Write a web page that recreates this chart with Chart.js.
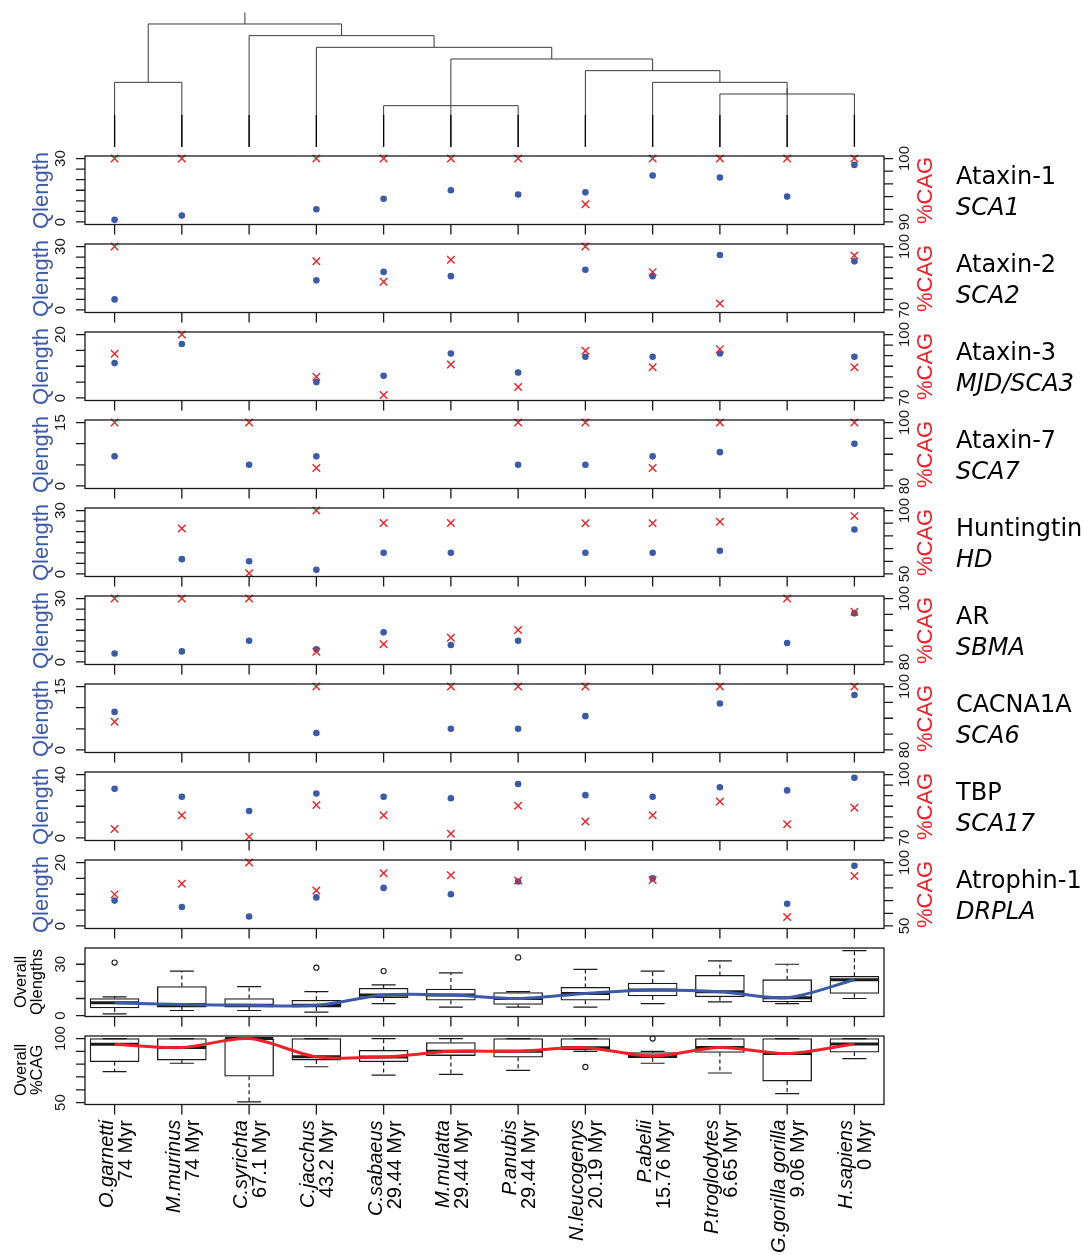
<!DOCTYPE html>
<html>
<head>
<meta charset="utf-8">
<script src="https://cdn.jsdelivr.net/npm/chart.js@4.4.1/dist/chart.umd.min.js"></script>
<style>
  html, body { margin: 0; background: #fff; overflow: hidden; }
  #page { position: relative; width: 1089px; height: 1255px; overflow: hidden;
          font-family: "Liberation Sans", Arial, sans-serif; color: #000; }
  canvas { position: absolute; left: 0; }
  .vt { position: absolute; transform-origin: 0 0; transform: rotate(-90deg);
        white-space: nowrap; text-align: center; }
  .gene { position: absolute; left: 956px; font-family: "DejaVu Sans", sans-serif;
          font-size: 24px; line-height: 31px; white-space: nowrap; }
  .species { font-size: 20px; line-height: 19px; text-align: right; }
</style>
</head>
<body>
<div id="page"></div>
<script>
// ── Species / labels ─────────────────────────────────────────
const species    = ['O.garnetti', 'M.murinus', 'C.syrichta', 'C.jacchus', 'C.sabaeus', 'M.mulatta',
                    'P.anubis', 'N.leucogenys', 'P.abelii', 'P.troglodytes', 'G.gorilla gorilla', 'H.sapiens'];
const divergence = ['74 Myr', '74 Myr', '67.1 Myr', '43.2 Myr', '29.44 Myr', '29.44 Myr',
                    '29.44 Myr', '20.19 Myr', '15.76 Myr', '6.65 Myr', '9.06 Myr', '0 Myr'];
const genes      = ['Ataxin-1', 'Ataxin-2', 'Ataxin-3', 'Ataxin-7', 'Huntingtin', 'AR', 'CACNA1A', 'TBP', 'Atrophin-1'];
const diseases   = ['SCA1', 'SCA2', 'MJD/SCA3', 'SCA7', 'HD', 'SBMA', 'SCA6', 'SCA17', 'DRPLA'];

// ── Per-gene Q length and %CAG (null = not present) ─────────
const qAtaxin1   = [1, 3, null, 6, 11, 15, 13, 14, 22, 21, 12, 27];
const cagAtaxin1 = [100, 100, null, 100, 100, 100, 100, 92.8, 100, 100, 100, 100];
const qAtaxin2   = [5, null, null, 14, 18, 16, null, 19, 16, 26, null, 23];
const cagAtaxin2 = [100, null, null, 93, 83.4, 93.8, null, 100, 87.9, 73.1, null, 95.8];
const qAtaxin3   = [11, 17, null, 5, 7, 14, 8, 13, 13, 14, null, 13];
const cagAtaxin3 = [90.9, 100, null, 80, 71.4, 85.8, 75.2, 92.3, 84.5, 93.1, null, 84.5];
const qAtaxin7   = [7, null, 5, 7, null, null, 5, 5, 7, 8, null, 10];
const cagAtaxin7 = [100, null, 100, 85.7, null, null, 100, 100, 85.7, 100, null, 100];
const qHtt       = [null, 7, 6, 2, 10, 10, null, 10, 10, 11, null, 21];
const cagHtt     = [null, 85.9, 50.5, 100, 90.1, 90.1, null, 90, 90, 91.1, null, 95.6];
const qAR        = [4, 5, 10, 6, 14, 8, 10, null, null, null, 9, 23];
const cagAR      = [100, 100, 100, 83.2, 85.6, 87.6, 90.1, null, null, null, 100, 95.8];
const qCacna1a   = [9, null, null, 4, null, 5, 5, 8, null, 11, null, 13];
const cagCacna1a = [88.9, null, null, 100, null, 100, 100, 100, null, 100, null, 100];
const qTbp       = [31, 26, 17, 28, 26, 25, 34, 27, 26, 32, 30, 38];
const cagTbp     = [74.2, 80.7, 70.6, 85.6, 80.7, 72, 85.2, 77.8, 80.7, 87.3, 76.5, 84.3];
const qAtn1      = [8, 6, 3, 9, 12, 10, 14, null, 15, null, 7, 19];
const cagAtn1    = [74.9, 83.2, 100, 78, 91.5, 89.9, 85.8, null, 86.3, null, 57, 89.4];

// ── Axis ticks per panel ─────────────────────────────────────
const qTicks = [
  [0, 5, 10, 15, 20, 25, 30], [0, 5, 10, 15, 20, 25, 30], [0, 5, 10, 15, 20], [0, 5, 10, 15],
  [0, 5, 10, 15, 20, 25, 30], [0, 5, 10, 15, 20, 25, 30], [0, 5, 10, 15], [0, 10, 20, 30, 40],
  [0, 5, 10, 15, 20]
];
const cagTicks = [
  [90, 92, 94, 96, 98, 100], [70, 75, 80, 85, 90, 95, 100], [70, 75, 80, 85, 90, 95, 100],
  [80, 85, 90, 95, 100], [50, 60, 70, 80, 90, 100], [80, 85, 90, 95, 100], [80, 85, 90, 95, 100],
  [70, 75, 80, 85, 90, 95, 100], [50, 60, 70, 80, 90, 100]
];

// ── Overall boxplots (Qlengths) ──────────────────────────────
const qBoxLo  = [1, 3, 3, 2, 7, 5, 5, 5, 7, 8, 7, 10];
const qBoxQ1  = [4.5, 5, 5, 5, 10.5, 9, 6.5, 9, 11.5, 11, 8, 13];
const qBoxMed = [7.5, 6.5, 6, 6, 12, 12, 10, 13, 15, 14, 10.5, 21];
const qBoxQ3  = [10, 17, 10, 9, 16, 15.5, 13.5, 16.5, 19, 23.5, 21, 23];
const qBoxHi  = [11, 26, 17, 14, 18, 25, 14, 27, 26, 32, 30, 38];
const qOutlierSpecies = ['O.garnetti', 'C.jacchus', 'C.sabaeus', 'P.anubis'];
const qOutlierValues  = [31, 28, 26, 34];
const qBoxTicks = [0, 10, 20, 30];
const qBoxRange = [-0.5, 39.5];

// ── Overall boxplots (%CAG) ──────────────────────────────────
const cagBoxLo  = [74.2, 80.7, 50.5, 78, 71.4, 72, 75.2, 90, 80.7, 73.1, 57, 84.3];
const cagBoxQ1  = [81.9, 83.2, 70.6, 83.2, 82, 86.7, 85.5, 91.2, 85.1, 89.2, 66.8, 89.4];
const cagBoxMed = [95.5, 93, 100, 85.7, 85.6, 90, 90.1, 92.9, 86.3, 93.1, 88.3, 95.8];
const cagBoxQ3  = [100, 100, 100, 100, 90.8, 96.9, 100, 100, 89, 100, 100, 100];
const cagBoxHi  = [100, 100, 100, 100, 100, 100, 100, 100, 90, 100, 100, 100];
const cagOutlierSpecies = ['N.leucogenys', 'P.abelii'];
const cagOutlierValues  = [77.8, 100];
const cagBoxTicks = [50, 60, 70, 80, 90, 100];
const cagBoxRange = [48.5, 102];

// ── Tree (levels = drawing rank of each split) ───────────────
const treeNodes = [
  { id: 'hp',   kids: ['P.troglodytes', 'H.sapiens'], level: 4 },
  { id: 'hpg',  kids: ['G.gorilla gorilla', 'hp'], level: 4.5 },
  { id: 'ape',  kids: ['P.abelii', 'hpg'], level: 5 },
  { id: 'hom',  kids: ['N.leucogenys', 'ape'], level: 6 },
  { id: 'owm',  kids: ['C.sabaeus', 'M.mulatta', 'P.anubis'], level: 3 },
  { id: 'cat',  kids: ['owm', 'hom'], level: 7 },
  { id: 'sim',  kids: ['C.jacchus', 'cat'], level: 8 },
  { id: 'hap',  kids: ['C.syrichta', 'sim'], level: 9 },
  { id: 'pro',  kids: ['O.garnetti', 'M.murinus'], level: 5 },
  { id: 'root', kids: ['pro', 'hap'], level: 10 }
];

// ── Layout ───────────────────────────────────────────────────
const PAGE_W = 1089;
const PLOT_L = 85, PLOT_R = 884;
const X_MIN = 0.56, X_MAX = 12.44;
const PANEL_TOP = 156, PANEL_GAP = 88, PANEL_H = 68.5;
const PAD_TOP = 12, CANVAS_H = 102;
const LABEL_END = 1120;
const BLUE = '#3b5aa7', RED = '#ee2128', INK = '#1a1a1a';
const FONT = '"Liberation Sans", Arial, sans-serif';

const page = document.getElementById('page');

function addCanvas(top, height) {
  const c = document.createElement('canvas');
  c.width = PAGE_W;
  c.height = height;
  c.style.top = top + 'px';
  page.appendChild(c);
  return c;
}

function padRange(lo, hi) {
  const e = (hi - lo) * 0.04;
  return { min: lo - e, max: hi + e };
}

function baseOptions(padTop, padBottom, yScales) {
  return {
    responsive: false,
    animation:  false,
    events:     [],
    layout: { padding: { left: PLOT_L, right: PAGE_W - PLOT_R, top: padTop, bottom: padBottom } },
    plugins: { legend: { display: false }, tooltip: { enabled: false } },
    scales: Object.assign({
      x: { type: 'linear', min: X_MIN, max: X_MAX, display: false, offset: false }
    }, yScales)
  };
}

// R-style box, ticks and end labels
function rFrame(sideAxes) {
  return {
    id: 'rFrame',
    afterDatasetsDraw(chart) {
      const { ctx, chartArea: a, scales } = chart;
      ctx.save();
      ctx.strokeStyle = INK;
      ctx.lineWidth = 1.3;
      ctx.strokeRect(a.left, a.top, a.right - a.left, a.bottom - a.top);
      ctx.beginPath();
      species.forEach((s, i) => {
        const x = scales.x.getPixelForValue(i + 1);
        ctx.moveTo(x, a.bottom);
        ctx.lineTo(x, a.bottom + 10);
      });
      ctx.stroke();
      ctx.fillStyle = INK;
      ctx.font = '15px ' + FONT;
      ctx.textAlign = 'center';
      ctx.textBaseline = 'middle';
      sideAxes.forEach(ax => {
        const sc   = scales[ax.id];
        const edge = ax.side === 'left' ? a.left : a.right;
        const dir  = ax.side === 'left' ? -1 : 1;
        ctx.beginPath();
        ax.ticks.forEach(v => {
          const y = sc.getPixelForValue(v);
          ctx.moveTo(edge, y);
          ctx.lineTo(edge + dir * 9, y);
        });
        ctx.stroke();
        [ax.ticks[0], ax.ticks[ax.ticks.length - 1]].forEach(v => {
          ctx.save();
          ctx.translate(ax.labelX, sc.getPixelForValue(v));
          ctx.rotate(-Math.PI / 2);
          ctx.fillText(String(v), 0, 0);
          ctx.restore();
        });
      });
      ctx.restore();
    }
  };
}

// whiskers, caps and thick medians, drawn right after the box bars
function boxParts(st) {
  return {
    id: 'boxParts',
    afterDatasetDraw(chart, args) {
      if (args.meta.type !== 'bar') return;
      const { ctx, scales: { x, y } } = chart;
      ctx.save();
      ctx.strokeStyle = INK;
      st.med.forEach((m, i) => {
        const px = x.getPixelForValue(i + 1);
        ctx.lineWidth = 1.2;
        ctx.setLineDash([4, 3]);
        ctx.beginPath();
        ctx.moveTo(px, y.getPixelForValue(st.q3[i]));
        ctx.lineTo(px, y.getPixelForValue(st.hi[i]));
        ctx.moveTo(px, y.getPixelForValue(st.q1[i]));
        ctx.lineTo(px, y.getPixelForValue(st.lo[i]));
        ctx.stroke();
        ctx.setLineDash([]);
        ctx.beginPath();
        [st.hi[i], st.lo[i]].forEach(v => {
          const py = y.getPixelForValue(v);
          ctx.moveTo(px - 12, py);
          ctx.lineTo(px + 12, py);
        });
        ctx.stroke();
        ctx.lineWidth = 3;
        ctx.beginPath();
        const pm = y.getPixelForValue(m);
        ctx.moveTo(px - 24, pm);
        ctx.lineTo(px + 24, pm);
        ctx.stroke();
      });
      ctx.restore();
    }
  };
}

// rotated (bottom-to-top) HTML text centred on (cx, cy)
function vText(html, cx, cy, css) {
  const d = document.createElement('div');
  d.className = 'vt';
  d.innerHTML = html;
  Object.assign(d.style, css);
  page.appendChild(d);
  const w = d.offsetWidth, h = d.offsetHeight;
  d.style.left = (cx - h / 2) + 'px';
  d.style.top  = (cy + w / 2) + 'px';
}

const xy = arr => arr.map((v, i) => ({ x: i + 1, y: v }));

// ── Dendrogram ───────────────────────────────────────────────
const LEAF_BASE = -0.54, LEAF_STUB = 2.2, ROOT_TOP = 11;

function nodeOf(id) { return treeNodes.find(n => n.id === id); }
function nodeX(id) {
  const k = species.indexOf(id);
  if (k >= 0) return k + 1;
  const xs = nodeOf(id).kids.map(nodeX);
  return (Math.min(...xs) + Math.max(...xs)) / 2;
}
function nodeLevel(id) { return species.includes(id) ? LEAF_BASE : nodeOf(id).level; }

const treePts = [];
const gap = () => treePts.push({ x: 0, y: null });
treeNodes.forEach(n => {
  const xs = n.kids.map(nodeX);
  n.kids.forEach((k, j) => {
    treePts.push({ x: xs[j], y: nodeLevel(k) }, { x: xs[j], y: n.level });
    gap();
  });
  treePts.push({ x: Math.min(...xs), y: n.level }, { x: Math.max(...xs), y: n.level });
  gap();
});
treePts.push({ x: nodeX('root'), y: 10 }, { x: nodeX('root'), y: ROOT_TOP });

const stubPts = [];
species.forEach((s, i) => {
  stubPts.push({ x: i + 1, y: LEAF_STUB }, { x: i + 1, y: LEAF_BASE }, { x: 0, y: null });
});

new Chart(addCanvas(0, 152), {
  type: 'scatter',
  data: {
    datasets: [
      { data: stubPts, showLine: true, spanGaps: false, borderColor: '#000', borderWidth: 1.3, pointRadius: 0 },
      { data: treePts, showLine: true, spanGaps: false, borderColor: '#3a3a3a', borderWidth: 1, pointRadius: 0 }
    ]
  },
  options: baseOptions(12.3, 5, {
    y: { type: 'linear', min: LEAF_BASE, max: ROOT_TOP, display: false }
  })
});

// ── Gene panels ──────────────────────────────────────────────
const qSeries   = [qAtaxin1, qAtaxin2, qAtaxin3, qAtaxin7, qHtt, qAR, qCacna1a, qTbp, qAtn1];
const cagSeries = [cagAtaxin1, cagAtaxin2, cagAtaxin3, cagAtaxin7, cagHtt, cagAR, cagCacna1a, cagTbp, cagAtn1];

genes.forEach((g, i) => {
  const top = PANEL_TOP + PANEL_GAP * i;
  const qt = qTicks[i], ct = cagTicks[i];
  new Chart(addCanvas(top - PAD_TOP, CANVAS_H), {
    type: 'scatter',
    data: {
      datasets: [
        {
          data: xy(cagSeries[i]), yAxisID: 'yR', clip: false,
          pointStyle: 'crossRot', pointRadius: 5.3, pointBorderWidth: 1.4,
          pointBorderColor: RED, pointBackgroundColor: RED
        },
        {
          data: xy(qSeries[i]), yAxisID: 'yL', clip: false,
          pointStyle: 'circle', pointRadius: 3.3, pointBorderWidth: 0,
          pointBorderColor: BLUE, pointBackgroundColor: BLUE
        }
      ]
    },
    options: baseOptions(PAD_TOP, CANVAS_H - PAD_TOP - PANEL_H, {
      yL: Object.assign({ type: 'linear', position: 'left',  display: false }, padRange(qt[0], qt[qt.length - 1])),
      yR: Object.assign({ type: 'linear', position: 'right', display: false }, padRange(ct[0], ct[ct.length - 1]))
    }),
    plugins: [rFrame([
      { id: 'yL', side: 'left',  ticks: qt, labelX: 61 },
      { id: 'yR', side: 'right', ticks: ct, labelX: 905 }
    ])]
  });

  const mid = top + PANEL_H / 2;
  vText('Qlength', 41, mid, { color: BLUE, fontSize: '22px', lineHeight: '22px' });
  vText('%CAG', 925, mid, { color: RED, fontSize: '22px', lineHeight: '22px' });

  const lab = document.createElement('div');
  lab.className = 'gene';
  lab.style.top = (top + 4.5) + 'px';
  lab.innerHTML = `${g}<br><i>${diseases[i]}</i>`;
  page.appendChild(lab);
});

// ── Overall boxplot panels ───────────────────────────────────
function boxPanel(slot, st, range, ticks, lineColor, outSpecies, outValues, label) {
  const top = PANEL_TOP + PANEL_GAP * slot;
  const chart = new Chart(addCanvas(top - PAD_TOP, CANVAS_H), {
    type: 'scatter',
    data: {
      datasets: [
        {
          type: 'line', data: xy(st.med), order: 0, clip: false,
          borderColor: lineColor, borderWidth: 3, pointRadius: 0, tension: 0.3
        },
        {
          type: 'scatter', order: 1,
          data: outSpecies.map((s, k) => ({ x: species.indexOf(s) + 1, y: outValues[k] })),
          pointStyle: 'circle', pointRadius: 2.6, pointBorderWidth: 1.1,
          pointBorderColor: INK, pointBackgroundColor: '#fff'
        },
        {
          type: 'bar', order: 2,
          data: st.q1.map((v, k) => ({ x: k + 1, y: [v, st.q3[k]] })),
          backgroundColor: '#fff', borderColor: INK, borderWidth: 1.3,
          borderSkipped: false, barThickness: 49
        }
      ]
    },
    options: baseOptions(PAD_TOP, CANVAS_H - PAD_TOP - PANEL_H, {
      y: { type: 'linear', position: 'left', display: false, min: range[0], max: range[1] }
    }),
    plugins: [boxParts(st), rFrame([{ id: 'y', side: 'left', ticks: ticks, labelX: 61 }])]
  });
  vText(label, 28, top + PANEL_H / 2, { fontSize: '16.5px', lineHeight: '16px' });
  return chart;
}

boxPanel(9, { lo: qBoxLo, q1: qBoxQ1, med: qBoxMed, q3: qBoxQ3, hi: qBoxHi },
         qBoxRange, qBoxTicks, BLUE, qOutlierSpecies, qOutlierValues, 'Overall<br>Qlengths');
const cagChart = boxPanel(10, { lo: cagBoxLo, q1: cagBoxQ1, med: cagBoxMed, q3: cagBoxQ3, hi: cagBoxHi },
         cagBoxRange, cagBoxTicks, RED, cagOutlierSpecies, cagOutlierValues, 'Overall<br>%CAG');

// ── Species labels under the last panel ──────────────────────
species.forEach((s, i) => {
  const d = document.createElement('div');
  d.className = 'vt species';
  d.innerHTML = `<i>${s}</i><br>${divergence[i]}`;
  page.appendChild(d);
  const w  = d.offsetWidth;
  const px = cagChart.scales.x.getPixelForValue(i + 1);
  d.style.left = (px - 18) + 'px';
  d.style.top  = (LABEL_END + w) + 'px';
});
</script>
</body>
</html>
